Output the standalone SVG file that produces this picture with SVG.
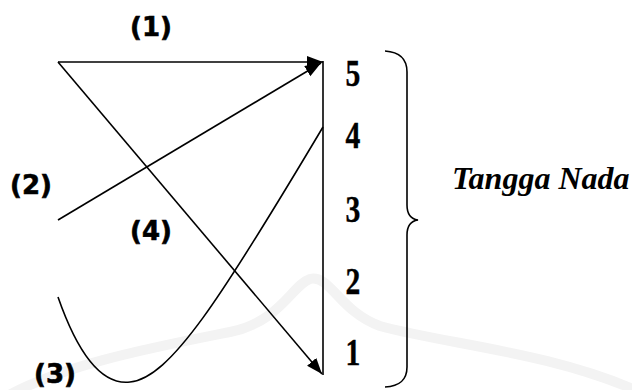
<svg xmlns="http://www.w3.org/2000/svg" width="632" height="390" viewBox="0 0 632 390">
  <style>
    .ln { fill: none; stroke: #000; stroke-width: 1.6; }
    .lbl { font-family: "DejaVu Sans", Verdana, sans-serif; font-weight: bold; font-size: 26px; fill: #000; stroke: #000; stroke-width: 0.6; text-anchor: middle; }
    .dig { font-family: "Liberation Serif", "Times New Roman", serif; font-weight: bold; font-size: 37px; fill: #000; stroke: #000; stroke-width: 0.4; text-anchor: middle; }
    .title { font-family: "Liberation Serif", "Times New Roman", serif; font-weight: bold; font-style: italic; font-size: 32px; fill: #000; }
    .wm { fill: none; stroke: #f3f3f3; stroke-width: 10; stroke-linecap: round; }
  </style>
  <defs>
    <marker id="head" markerUnits="userSpaceOnUse" markerWidth="18" markerHeight="14" refX="16" refY="6" orient="auto">
      <path d="M0,0 L16,6 L0,12 z" fill="#000"/>
    </marker>
  </defs>
  <rect width="632" height="390" fill="#fff"/>
  <g id="watermark">
    <path class="wm" d="M0,400 C60,365 150,348 230,332 C280,322 292,285 310,279 C330,274 340,312 380,326 C450,345 550,352 640,392"/>
  </g>
  <g id="connectors">
    <line class="ln" x1="58" y1="62" x2="323" y2="62" marker-end="url(#head)"/>
    <line class="ln" x1="58" y1="220" x2="321" y2="63" marker-end="url(#head)"/>
    <line class="ln" x1="58" y1="62" x2="322" y2="374" marker-end="url(#head)"/>
    <path class="ln" d="M58,297 C80,360 105,385 130,382 C170,378 220,300 323,127"/>
    <line class="ln" x1="323" y1="61" x2="323" y2="375"/>
  </g>
  <g id="labels">
    <text class="lbl" x="151" y="36">(1)</text>
    <text class="lbl" x="31" y="194">(2)</text>
    <text class="lbl" x="55" y="383">(3)</text>
    <text class="lbl" x="151" y="240">(4)</text>
  </g>
  <g id="scale">
    <text class="dig" transform="translate(353,86) scale(0.8,1)">5</text>
    <text class="dig" transform="translate(353,148) scale(0.8,1)">4</text>
    <text class="dig" transform="translate(353,222) scale(0.8,1)">3</text>
    <text class="dig" transform="translate(353,294) scale(0.8,1)">2</text>
    <text class="dig" transform="translate(353,365) scale(0.8,1)">1</text>
  </g>
  <g id="brace">
    <path class="ln" d="M385,51 C400,52 407,60 407,72 L407,205 C407,214 411,219 418,220 C411,221 407,226 407,235 L407,367 C407,380 400,386 385,387"/>
  </g>
  <g id="title">
    <text class="title" x="452" y="189">Tangga Nada</text>
  </g>
</svg>
